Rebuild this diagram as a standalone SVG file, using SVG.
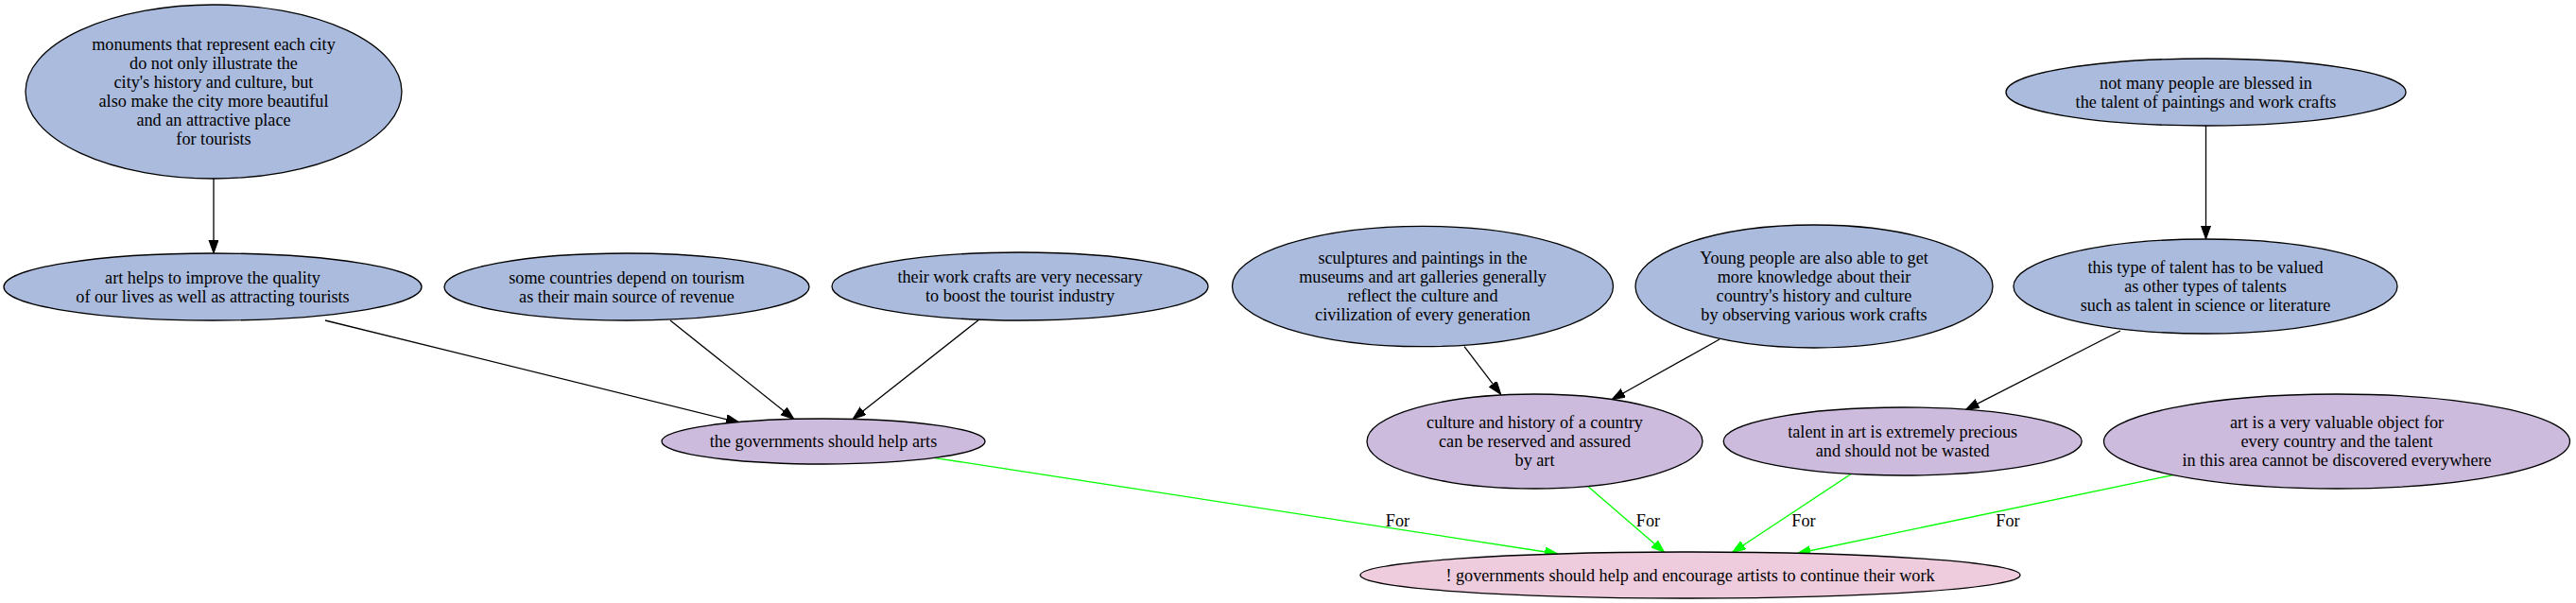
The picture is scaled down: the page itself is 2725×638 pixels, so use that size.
<svg xmlns="http://www.w3.org/2000/svg" width="2725" height="638" viewBox="0 0 2725 638">
<defs>
<style>
.n ellipse{stroke:#000;stroke-width:1.3}
.b ellipse{fill:#aabbdd}
.p ellipse{fill:#ccbbdd}
.k ellipse{fill:#eeccdd}
text{font-family:"Liberation Serif","Times New Roman",serif;font-size:18.2px;fill:#000;text-anchor:middle}
.e line{stroke:#000;stroke-width:1.3;marker-end:url(#ab)}
.e line.g{stroke:#00ff00;marker-end:url(#ag)}
</style>
<marker id="ab" markerUnits="userSpaceOnUse" markerWidth="16" markerHeight="12" refX="14" refY="5" orient="auto" viewBox="0 0 16 12"><path d="M0,0 L14,5 L0,10 z" fill="#000" stroke="#000"/></marker>
<marker id="ag" markerUnits="userSpaceOnUse" markerWidth="16" markerHeight="12" refX="14" refY="5" orient="auto" viewBox="0 0 16 12"><path d="M0,0 L14,5 L0,10 z" fill="#00ff00" stroke="#00ff00"/></marker>
</defs>
<rect width="2725" height="638" fill="#fff"/>
<g id="edges" class="e">
<line x1="226" y1="189" x2="226" y2="268"/>
<line x1="344" y1="339" x2="782" y2="447"/>
<line x1="709" y1="339" x2="840" y2="443.5"/>
<line x1="1035" y1="338.7" x2="902" y2="443.5"/>
<line x1="1549" y1="366.7" x2="1587.7" y2="417.3"/>
<line x1="1819" y1="359" x2="1705" y2="422.7"/>
<line x1="2243" y1="350" x2="2079.6" y2="433.3"/>
<line x1="2333.5" y1="133" x2="2333.5" y2="253"/>
<line class="g" x1="987.6" y1="484.3" x2="1648" y2="586"/>
<line class="g" x1="1679.4" y1="514.3" x2="1760.8" y2="584.5"/>
<line class="g" x1="1958.9" y1="501" x2="1832.5" y2="584.5"/>
<line class="g" x1="2300" y1="502.3" x2="1901.4" y2="585.5"/>
<text x="1478.5" y="557">For</text>
<text x="1743.5" y="557">For</text>
<text x="1908" y="557">For</text>
<text x="2124" y="557">For</text>
</g>
<g id="n_monuments" class="n b">
<ellipse cx="226" cy="97" rx="199" ry="92"/>
<text x="226" y="53">monuments that represent each city</text>
<text x="226" y="73">do not only illustrate the</text>
<text x="226" y="93">city's history and culture, but</text>
<text x="226" y="113">also make the city more beautiful</text>
<text x="226" y="133">and an attractive place</text>
<text x="226" y="153">for tourists</text>
</g>
<g id="n_arthelps" class="n b">
<ellipse cx="225" cy="303.5" rx="221" ry="35.5"/>
<text x="225" y="299.5">art helps to improve the quality</text>
<text x="225" y="319.5">of our lives as well as attracting tourists</text>
</g>
<g id="n_somecountries" class="n b">
<ellipse cx="663" cy="303.5" rx="193" ry="35.5"/>
<text x="663" y="299.5">some countries depend on tourism</text>
<text x="663" y="319.5">as their main source of revenue</text>
</g>
<g id="n_workcrafts" class="n b">
<ellipse cx="1079" cy="303" rx="199" ry="36"/>
<text x="1079" y="299">their work crafts are very necessary</text>
<text x="1079" y="319">to boost the tourist industry</text>
</g>
<g id="n_sculptures" class="n b">
<ellipse cx="1505" cy="303" rx="201.5" ry="63.7"/>
<text x="1505" y="279">sculptures and paintings in the</text>
<text x="1505" y="299">museums and art galleries generally</text>
<text x="1505" y="319">reflect the culture and</text>
<text x="1505" y="339">civilization of every generation</text>
</g>
<g id="n_young" class="n b">
<ellipse cx="1919" cy="303" rx="189" ry="65"/>
<text x="1919" y="279">Young people are also able to get</text>
<text x="1919" y="299">more knowledge about their</text>
<text x="1919" y="319">country's history and culture</text>
<text x="1919" y="339">by observing various work crafts</text>
</g>
<g id="n_notmany" class="n b">
<ellipse cx="2333.5" cy="97.5" rx="211.5" ry="35.5"/>
<text x="2333.5" y="93.5">not many people are blessed in</text>
<text x="2333.5" y="113.5">the talent of paintings and work crafts</text>
</g>
<g id="n_thistype" class="n b">
<ellipse cx="2333" cy="303" rx="203" ry="50"/>
<text x="2333" y="289">this type of talent has to be valued</text>
<text x="2333" y="309">as other types of talents</text>
<text x="2333" y="329">such as talent in science or literature</text>
</g>
<g id="n_governments" class="n p">
<ellipse cx="871" cy="467" rx="171" ry="24"/>
<text x="871" y="473">the governments should help arts</text>
</g>
<g id="n_culture" class="n p">
<ellipse cx="1623.5" cy="467" rx="177.5" ry="50"/>
<text x="1623.5" y="453">culture and history of a country</text>
<text x="1623.5" y="473">can be reserved and assured</text>
<text x="1623.5" y="493">by art</text>
</g>
<g id="n_talent" class="n p">
<ellipse cx="2012.7" cy="467" rx="189.5" ry="36"/>
<text x="2012.7" y="463">talent in art is extremely precious</text>
<text x="2012.7" y="483">and should not be wasted</text>
</g>
<g id="n_valuable" class="n p">
<ellipse cx="2472" cy="467" rx="246.5" ry="50"/>
<text x="2472" y="453">art is a very valuable object for</text>
<text x="2472" y="473">every country and the talent</text>
<text x="2472" y="493">in this area cannot be discovered everywhere</text>
</g>
<g id="n_claim" class="n k">
<ellipse cx="1788" cy="608.5" rx="349" ry="24.5"/>
<text x="1788" y="614.5">! governments should help and encourage artists to continue their work</text>
</g>
</svg>
